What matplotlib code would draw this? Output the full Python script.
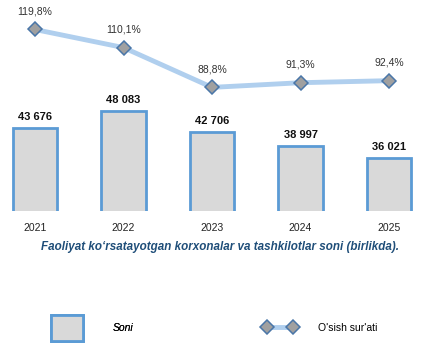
import matplotlib
matplotlib.use("Agg")
import matplotlib.pyplot as plt
from matplotlib.lines import Line2D
from matplotlib.patches import Patch

plt.rcParams['font.family'] = ['Liberation Sans', 'DejaVu Sans']

years = ['2021', '2022', '2023', '2024', '2025']
soni = [43676, 48083, 42706, 38997, 36021]
osish = [119.8, 110.1, 88.8, 91.3, 92.4]

bar_face = '#D9D9D9'
bar_edge = '#5B9BD5'
line_col = '#B0CFEE'
mk_face = '#A0A0A0'
mk_edge = '#4A76A8'

fig = plt.figure(figsize=(4.23, 3.47), dpi=100)
ax = fig.add_axes([0.0033, 0.392, 0.996, 0.608])
x = list(range(len(years)))

# bars
ax.bar(x, soni, width=0.5, color=bar_face, edgecolor=bar_edge, linewidth=2)
ax.set_xlim(-0.38, 4.38)
ax.set_ylim(22157, 77105)
for i, v in enumerate(soni):
    ax.annotate('{:,}'.format(v).replace(',', ' '), (i, v), xytext=(0, 8),
                textcoords='offset points', ha='center', va='center',
                fontsize=8, fontweight='bold', color='#111111')
    ax.annotate(years[i], (i, 22157), xytext=(0, -12.5),
                textcoords='offset points', ha='center', va='center',
                fontsize=7.5, color='#222222')
ax.axis('off')

# growth line
ax2 = ax.twinx()
ax2.plot(x, osish, color=line_col, linewidth=3.5, marker='D', markersize=7.3,
         markerfacecolor=mk_face, markeredgecolor=mk_edge, markeredgewidth=1.1)
ax2.set_ylim(22.6, 135.6)
for i, v in enumerate(osish):
    ax2.annotate('{:.1f}%'.format(v).replace('.', ','), (i, v), xytext=(0, 13),
                 textcoords='offset points', ha='center', va='center',
                 fontsize=7.5, color='#333333')
ax2.axis('off')

fig.text(220 / 423, 1 - 247 / 347, 'Faoliyat ko\u2018rsatayotgan korxonalar va tashkilotlar soni (birlikda).',
         ha='center', va='center', fontsize=8.4, fontstyle='italic',
         fontweight='bold', color='#1F4E79')

# legends
h1 = Patch(facecolor=bar_face, edgecolor=bar_edge, linewidth=2)
leg1 = fig.legend([h1], ['Soni'], loc='center left', bbox_to_anchor=(51 / 423, 19 / 347),
                  frameon=False, handlelength=3.1, handleheight=3.6,
                  handletextpad=2.8, borderpad=0, borderaxespad=0,
                  prop={'style': 'italic', 'size': 7.5})
h2 = Line2D([], [], color=line_col, linewidth=3.5, marker='D', markersize=7.3,
            markerfacecolor=mk_face, markeredgecolor=mk_edge, markeredgewidth=1.1)
leg2 = fig.legend([h2], ["O'sish sur'ati"], loc='center left',
                  bbox_to_anchor=(264 / 423, 19 / 347), frameon=False, fontsize=7.5,
                  handlelength=3.1, numpoints=2, handletextpad=2.1,
                  borderpad=0, borderaxespad=0)
fig.add_artist(leg1)

fig.savefig('out.png', dpi=100)
